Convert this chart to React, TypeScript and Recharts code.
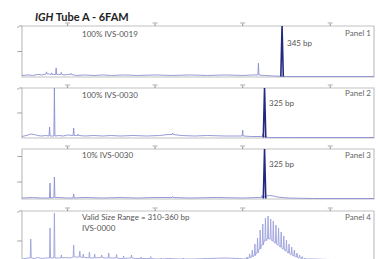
import React from "react";
import { LineChart, Line, XAxis, YAxis, ReferenceArea } from "recharts";

/* Four stacked electropherogram panels, IGH Tube A (6FAM channel).
   Each panel: a light noise trace with spikes, and one dark clonal peak. */

type Pt = [number, number];

const X_DOMAIN: [number, number] = [48, 450];
const X_TICKS = [100, 200, 300, 400];

// panel 1 — 100% IVS-0019
const p1Noise: Pt[] = [
  [48, 3], [55, 4], [60, 3], [66, 5], [71, 4], [79, 6], [84, 5], [90, 5], [96, 4], [100, 5], [110, 3], [120, 4],
  [130, 3], [140, 4], [150, 3], [165, 4], [180, 3], [200, 4], [220, 3], [240, 4], [260, 3], [280, 4], [300, 3],
  [312, 4], [325, 3], [335, 2], [350, 1], [370, 1], [400, 1], [450, 1],
];
const p1Spikes: Pt[] = [[76, 10], [82, 8], [87, 18], [93, 9], [104, 7], [318, 27]];
const p1Peak: Pt[] = [[345, 100]];

// panel 2 — 100% IVS-0030
const p2Noise: Pt[] = [
  [48, 3], [55, 6], [58, 8], [62, 7], [66, 5], [70, 4], [75, 5], [82, 4], [90, 5], [95, 4], [100, 6], [110, 5],
  [120, 4], [130, 5], [140, 4], [150, 5], [160, 4], [175, 5], [190, 4], [205, 5], [215, 7], [230, 5], [245, 4],
  [260, 5], [280, 4], [295, 4], [310, 3], [320, 3], [330, 1], [360, 1], [450, 1],
];
const p2Spikes: Pt[] = [[79.5, 22], [85, 100], [107, 20], [112, 8], [220, 10], [300, 16], [323, 8]];
const p2Peak: Pt[] = [[325, 100]];

// panel 3 — 10% IVS-0030
const p3Noise: Pt[] = [
  [48, 2], [60, 3], [70, 2], [90, 3], [100, 2], [120, 3], [140, 2], [160, 3], [180, 2], [200, 3], [240, 2],
  [270, 3], [300, 2], [318, 3], [327, 6], [331, 7], [335, 6], [340, 4], [345, 3], [352, 2], [380, 1], [450, 1],
];
const p3Spikes: Pt[] = [[80, 32], [85, 44], [107, 10], [220, 5], [322, 7]];
const p3Peak: Pt[] = [[325, 100]];

// panel 4 — IVS-0000, polyclonal, valid size range 310–360 bp
const p4Noise: Pt[] = [
  [48, 4], [54, 6], [62, 5], [66, 7], [71, 5], [75, 6], [90, 6], [97, 7], [103, 6], [110, 8], [121, 7], [128, 6],
  [136, 7], [143, 6], [152, 6], [160, 5], [170, 6], [178, 5], [190, 5], [200, 4], [215, 5], [228, 4], [245, 4],
  [260, 5], [280, 6], [296, 5], [303.5, 4], [306.5, 6], [309.5, 8], [312.5, 11], [315.5, 16], [318.5, 24],
  [321.5, 32], [324.5, 40], [327.5, 44], [330.5, 44], [333.5, 40], [336.5, 36], [339.5, 32], [342.5, 28],
  [345.5, 24], [348.5, 20], [351.5, 16], [354.5, 13], [357.5, 10], [360.5, 8], [363.5, 6], [366.5, 5],
  [369.5, 4], [372.5, 4], [380, 4], [400, 3], [420, 3], [450, 3],
];
const p4Spikes: Pt[] = [
  [58, 44], [80, 66], [85, 96], [93, 12], [107, 32], [114, 20], [118, 14], [125, 18], [131, 14], [139, 12],
  [147, 16], [156, 13], [164, 10], [173, 12], [184, 8], [195, 9], [207, 6], [232, 6],
  [302, 5], [305, 8], [308, 14], [311, 22], [314, 34], [317, 46], [320, 62], [323, 74], [326, 86], [329, 90],
  [332, 84], [335, 80], [338, 72], [341, 66], [344, 58], [347, 50], [350, 42], [353, 34], [356, 28], [359, 22],
  [362, 16], [365, 12], [368, 9], [371, 6], [374, 4],
];

const LIGHT = "#8a8fd2";
const LIGHT4 = "#9da1dc";
const DARK = "#232a7d";
const BORDER = "#c2c2c2";
const TICK = "#a0a0a0";

// merge a baseline trace with narrow spikes; spike feet sit on the nearest baseline value
function trace(noise: Pt[], spikes: Pt[], half = 0.6) {
  const near = (bp: number) =>
    noise.reduce((a, b) => (Math.abs(b[0] - bp) < Math.abs(a[0] - bp) ? b : a))[1];
  const pts = noise.filter(([bp]) => !spikes.some(([s]) => Math.abs(s - bp) <= half + 0.2)).map(([bp, v]) => ({ bp, v }));
  spikes.forEach(([bp, h]) => {
    const f = near(bp);
    pts.push({ bp: bp - half, v: f }, { bp, v: h }, { bp: bp + half, v: f });
  });
  return pts.sort((a, b) => a.bp - b.bp);
}

function peak(p: Pt[]) {
  return p.flatMap(([bp, h]) => [{ bp: bp - 1.4, v: 1 }, { bp, v: h }, { bp: bp + 1.4, v: 1 }]);
}

// the size / height labels are unreadable blurs in the source, so they become small grey marks
const TopTick = (props: any) => (
  <line x1={props.x - 2.5} x2={props.x + 2.5} y1={props.y} y2={props.y} stroke="#c8c8c8" strokeWidth={1.5} />
);
const LeftTick = (props: any) => (
  <line x1={props.x - 2} x2={props.x} y1={props.y} y2={props.y} stroke="#c8c8c8" strokeWidth={1.5} />
);

const panels = [
  { top: 26, h: 51, data: trace(p1Noise, p1Spikes), peak: peak(p1Peak), yTicks: [0, 25, 50, 75, 100], color: LIGHT },
  { top: 88, h: 50, data: trace(p2Noise, p2Spikes), peak: peak(p2Peak), yTicks: [0, 25, 50, 75, 100], color: LIGHT },
  { top: 149, h: 50, data: trace(p3Noise, p3Spikes), peak: peak(p3Peak), yTicks: [0, 17, 34, 51, 68, 85], color: LIGHT },
  { top: 211, h: 50, data: trace(p4Noise, p4Spikes), peak: [], yTicks: [0, 20, 40, 60, 80, 100], color: LIGHT4 },
];

const labels = [
  { x: 82, y: 34, text: "100% IVS-0019" },
  { x: 287, y: 43, text: "345 bp" },
  { x: 82, y: 95, text: "100% IVS-0030" },
  { x: 269, y: 103, text: "325 bp" },
  { x: 82, y: 155, text: "10% IVS-0030" },
  { x: 269, y: 164, text: "325 bp" },
  { x: 82, y: 217, text: "Valid Size Range = 310-360 bp" },
  { x: 82, y: 228, text: "IVS-0000" },
];
const panelNames = [
  { y: 33, text: "Panel 1" },
  { y: 93, text: "Panel 2" },
  { y: 155, text: "Panel 3" },
  { y: 217, text: "Panel 4" },
];

const FONT = "Lato, 'Open Sans', sans-serif";
const PAD_T = 8;
const PAD_B = 4;
const AX = 6; // room taken by the axes themselves

export default function App() {
  return (
    <div style={{ position: "absolute", left: 0, top: 0, width: 378, height: 259, background: "#fff", overflow: "hidden", fontFamily: FONT }}>
      <div style={{ position: "absolute", left: 35, top: 10, fontSize: 11, fontWeight: 700, color: "#222", lineHeight: "14px", whiteSpace: "nowrap" }}>
        <i>IGH</i> Tube A - 6FAM
      </div>
      {panels.map((p, i) => (
        <div key={i} style={{ position: "absolute", left: 0, top: p.top - PAD_T }}>
          <LineChart width={378} height={p.h + PAD_T + PAD_B} margin={{ top: PAD_T - AX, right: 4, bottom: PAD_B, left: 22 - AX }}>
            <XAxis
              dataKey="bp"
              type="number"
              orientation="top"
              domain={X_DOMAIN}
              ticks={X_TICKS}
              height={AX}
              allowDataOverflow
              axisLine={false}
              tickSize={3}
              tickMargin={0}
              tickLine={{ stroke: TICK, strokeWidth: 1.2 }}
              tick={<TopTick />}
            />
            <YAxis
              type="number"
              domain={[0, 100]}
              ticks={p.yTicks}
              width={AX}
              allowDataOverflow
              axisLine={false}
              tickSize={3}
              tickMargin={0}
              tickLine={{ stroke: TICK }}
              tick={<LeftTick />}
            />
            <ReferenceArea x1={X_DOMAIN[0]} x2={X_DOMAIN[1]} y1={0} y2={100} fill="none" stroke={BORDER} strokeWidth={1.2} />
            <Line data={p.data} dataKey="v" type="linear" stroke={p.color} strokeWidth={0.9} dot={false} isAnimationActive={false} />
            {p.peak.length > 0 && (
              <Line data={p.peak} dataKey="v" type="linear" stroke={DARK} strokeWidth={1.6} dot={false} isAnimationActive={false} />
            )}
          </LineChart>
        </div>
      ))}
      {labels.map((l, i) => (
        <div key={i} style={{ position: "absolute", left: l.x, top: l.y - 5, fontSize: 8, lineHeight: "10px", color: "#555", whiteSpace: "nowrap" }}>
          {l.text}
        </div>
      ))}
      {panelNames.map((l, i) => (
        <div key={i} style={{ position: "absolute", right: 7, top: l.y - 5, fontSize: 8, lineHeight: "10px", color: "#666", whiteSpace: "nowrap" }}>
          {l.text}
        </div>
      ))}
    </div>
  );
}
